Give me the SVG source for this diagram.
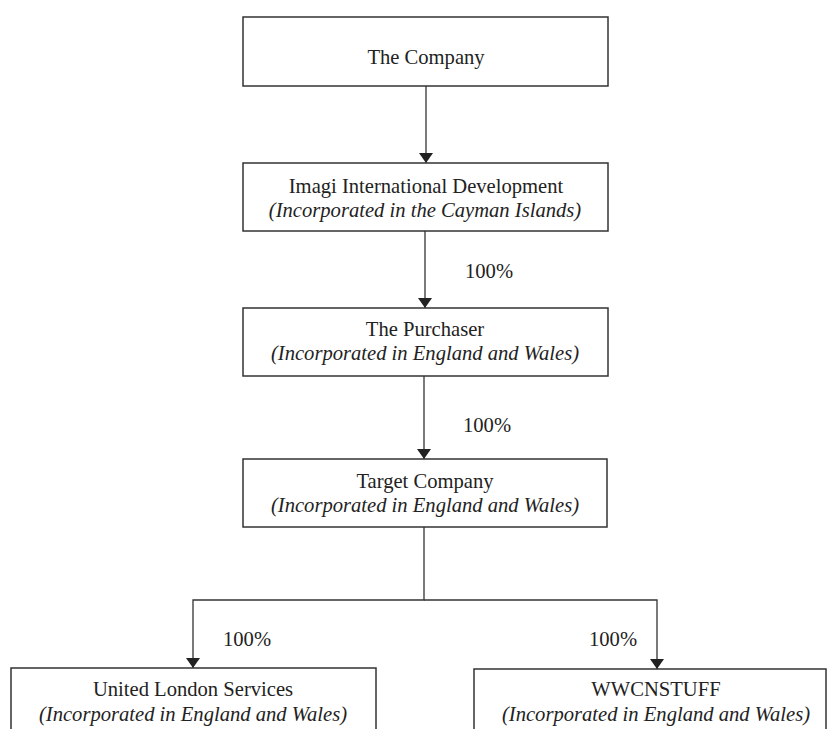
<svg xmlns="http://www.w3.org/2000/svg" width="828" height="729" viewBox="0 0 828 729">
<defs>
<marker id="arr" viewBox="0 0 10 14" refX="10" refY="7" markerWidth="10" markerHeight="14" markerUnits="userSpaceOnUse" orient="auto">
<path d="M0,0 L10,7 L0,14 Z" fill="#222"/>
</marker>
<style>
.box{fill:#fff;stroke:#333;stroke-width:1.5}
.t{font-family:"Liberation Serif","Times New Roman",serif;font-size:20.6px;fill:#222;text-anchor:middle}
.i{font-style:italic}
.line{fill:none;stroke:#333;stroke-width:1.3}
.pct{font-family:"Liberation Serif","Times New Roman",serif;font-size:20.6px;fill:#222}
</style>
</defs>
<rect width="828" height="729" fill="#fff"/>
<g id="connectors">
<line class="line" x1="426" y1="86" x2="426" y2="163" marker-end="url(#arr)"/>
<line class="line" x1="425" y1="231" x2="425" y2="308" marker-end="url(#arr)"/>
<line class="line" x1="424" y1="376" x2="424" y2="459" marker-end="url(#arr)"/>
<polyline class="line" points="424,527 424,600 193,600 193,668" marker-end="url(#arr)"/>
<polyline class="line" points="424,600 657,600 657,669" marker-end="url(#arr)"/>
<text class="pct" x="465" y="278">100%</text>
<text class="pct" x="463" y="432">100%</text>
<text class="pct" x="223" y="646">100%</text>
<text class="pct" x="589" y="646">100%</text>
</g>
<g id="company">
<rect class="box" x="243" y="17" width="365" height="69"/>
<text class="t" x="426" y="64">The Company</text>
</g>
<g id="imagi">
<rect class="box" x="243" y="163" width="365" height="68"/>
<text class="t" x="426" y="193">Imagi International Development</text>
<text class="t i" x="425" y="217">(Incorporated in the Cayman Islands)</text>
</g>
<g id="purchaser">
<rect class="box" x="243" y="308" width="365" height="68"/>
<text class="t" x="425" y="336">The Purchaser</text>
<text class="t i" x="425" y="360">(Incorporated in England and Wales)</text>
</g>
<g id="target">
<rect class="box" x="243" y="459" width="364" height="68"/>
<text class="t" x="425" y="488">Target Company</text>
<text class="t i" x="425" y="512">(Incorporated in England and Wales)</text>
</g>
<g id="uls">
<rect class="box" x="11" y="668" width="365" height="80"/>
<text class="t" x="193" y="696">United London Services</text>
<text class="t i" x="193" y="721">(Incorporated in England and Wales)</text>
</g>
<g id="wwcnstuff">
<rect class="box" x="474" y="669" width="352" height="80"/>
<text class="t" x="656" y="696">WWCNSTUFF</text>
<text class="t i" x="656" y="721">(Incorporated in England and Wales)</text>
</g>
</svg>
